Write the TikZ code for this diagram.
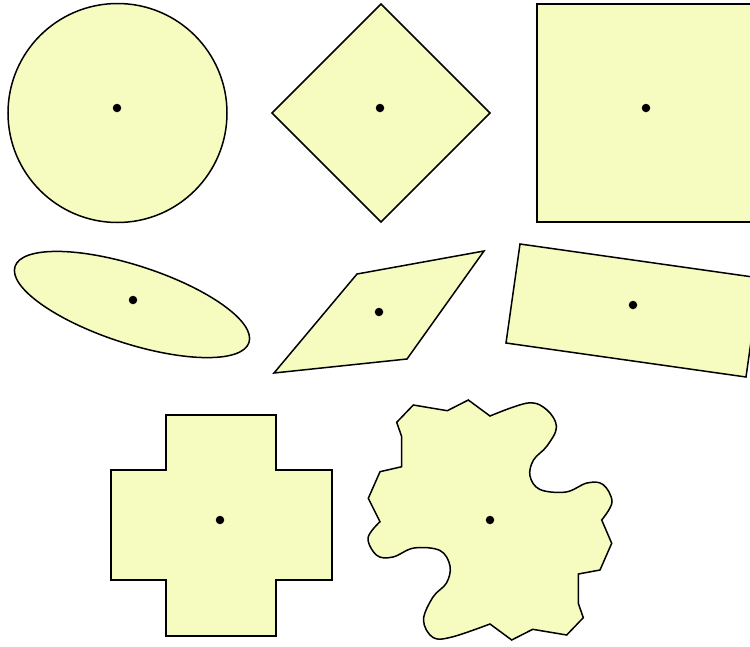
\documentclass[tikz,border=0pt]{standalone}
\usepackage{tikz}
\definecolor{shapefill}{HTML}{F6FBBF}
\tikzset{
  % --- filled outline of every figure ---
  figure/.style={draw=black, line width=1.5pt, fill=shapefill, line join=miter},
  % --- centre mark ---
  centre/.style={circle, fill=black, inner sep=0pt, minimum size=8.5pt},
}
\begin{document}
\begin{tikzpicture}[x=1pt, y=-1pt]
  \useasboundingbox (0,0) rectangle (750,646);
  \clip (0,0) rectangle (750,646);

  % top row: circle, diamond, square (runs off the right edge)
  \draw[figure] (117.5,113) circle[radius=109.5];
  \node[centre] (c1) at (117,108) {};
  \draw[figure] (381,4) -- (490,113) -- (381,222) -- (272,113) -- cycle;
  \node[centre] (c2) at (380,108) {};
  \draw[figure] (537,4) rectangle (756,222);
  \node[centre] (c3) at (646,108) {};

  % middle row: tilted ellipse, parallelogram, tilted rectangle
  \draw[figure, rotate around={-18:(132,304.5)}] (132,304.5) ellipse[x radius=123, y radius=39];
  \node[centre] (c4) at (133,300) {};
  \draw[figure] (274,373) -- (357,274) -- (484,251) -- (407,359) -- cycle;
  \node[centre] (c5) at (379,312) {};
  \draw[figure] (520,244) -- (760,278) -- (746,377) -- (506,343) -- cycle;
  \node[centre] (c6) at (633,305) {};

  % bottom row: cross and the wavy blob
  \draw[figure] (166,415) -- (276,415) -- (276,470) -- (332,470) -- (332,580)
        -- (276,580) -- (276,636) -- (166,636) -- (166,580) -- (111,580)
        -- (111,470) -- (166,470) -- cycle;
  \node[centre] (c7) at (220,520) {};
  \draw[figure] (380,521.7) -- (368.3,498.3) -- (380,471.7) -- (401.7,466.7)
        -- (401.7,436.7) -- (396.7,422.3) -- (413.3,405) -- (447.3,410.7)
        -- (468.3,400) -- (490,416)
        -- plot[smooth, tension=0.6] coordinates {(490,416) (528,403) (547,410)
           (556.5,427) (547,446) (533.5,460) (530,476) (540,489.5) (566,492)
           (587,483) (603,484.5) (612,502) (601.7,520)}
        -- (611.7,543.3) -- (600,570) -- (578.3,574) -- (578.3,603.3)
        -- (583.3,617.7) -- (566.7,635) -- (532.7,629.3) -- (511.7,640)
        -- (490,624)
        -- plot[smooth, tension=0.6] coordinates {(490,624) (452,637) (433,637.5)
           (423.5,620) (433,597) (446.5,583) (450,566) (440,550.5) (414,548)
           (393,557) (377,555.5) (368,538) (380,521.7)}
        -- cycle;
  \node[centre] (c8) at (490,520) {};
\end{tikzpicture}
\end{document}
